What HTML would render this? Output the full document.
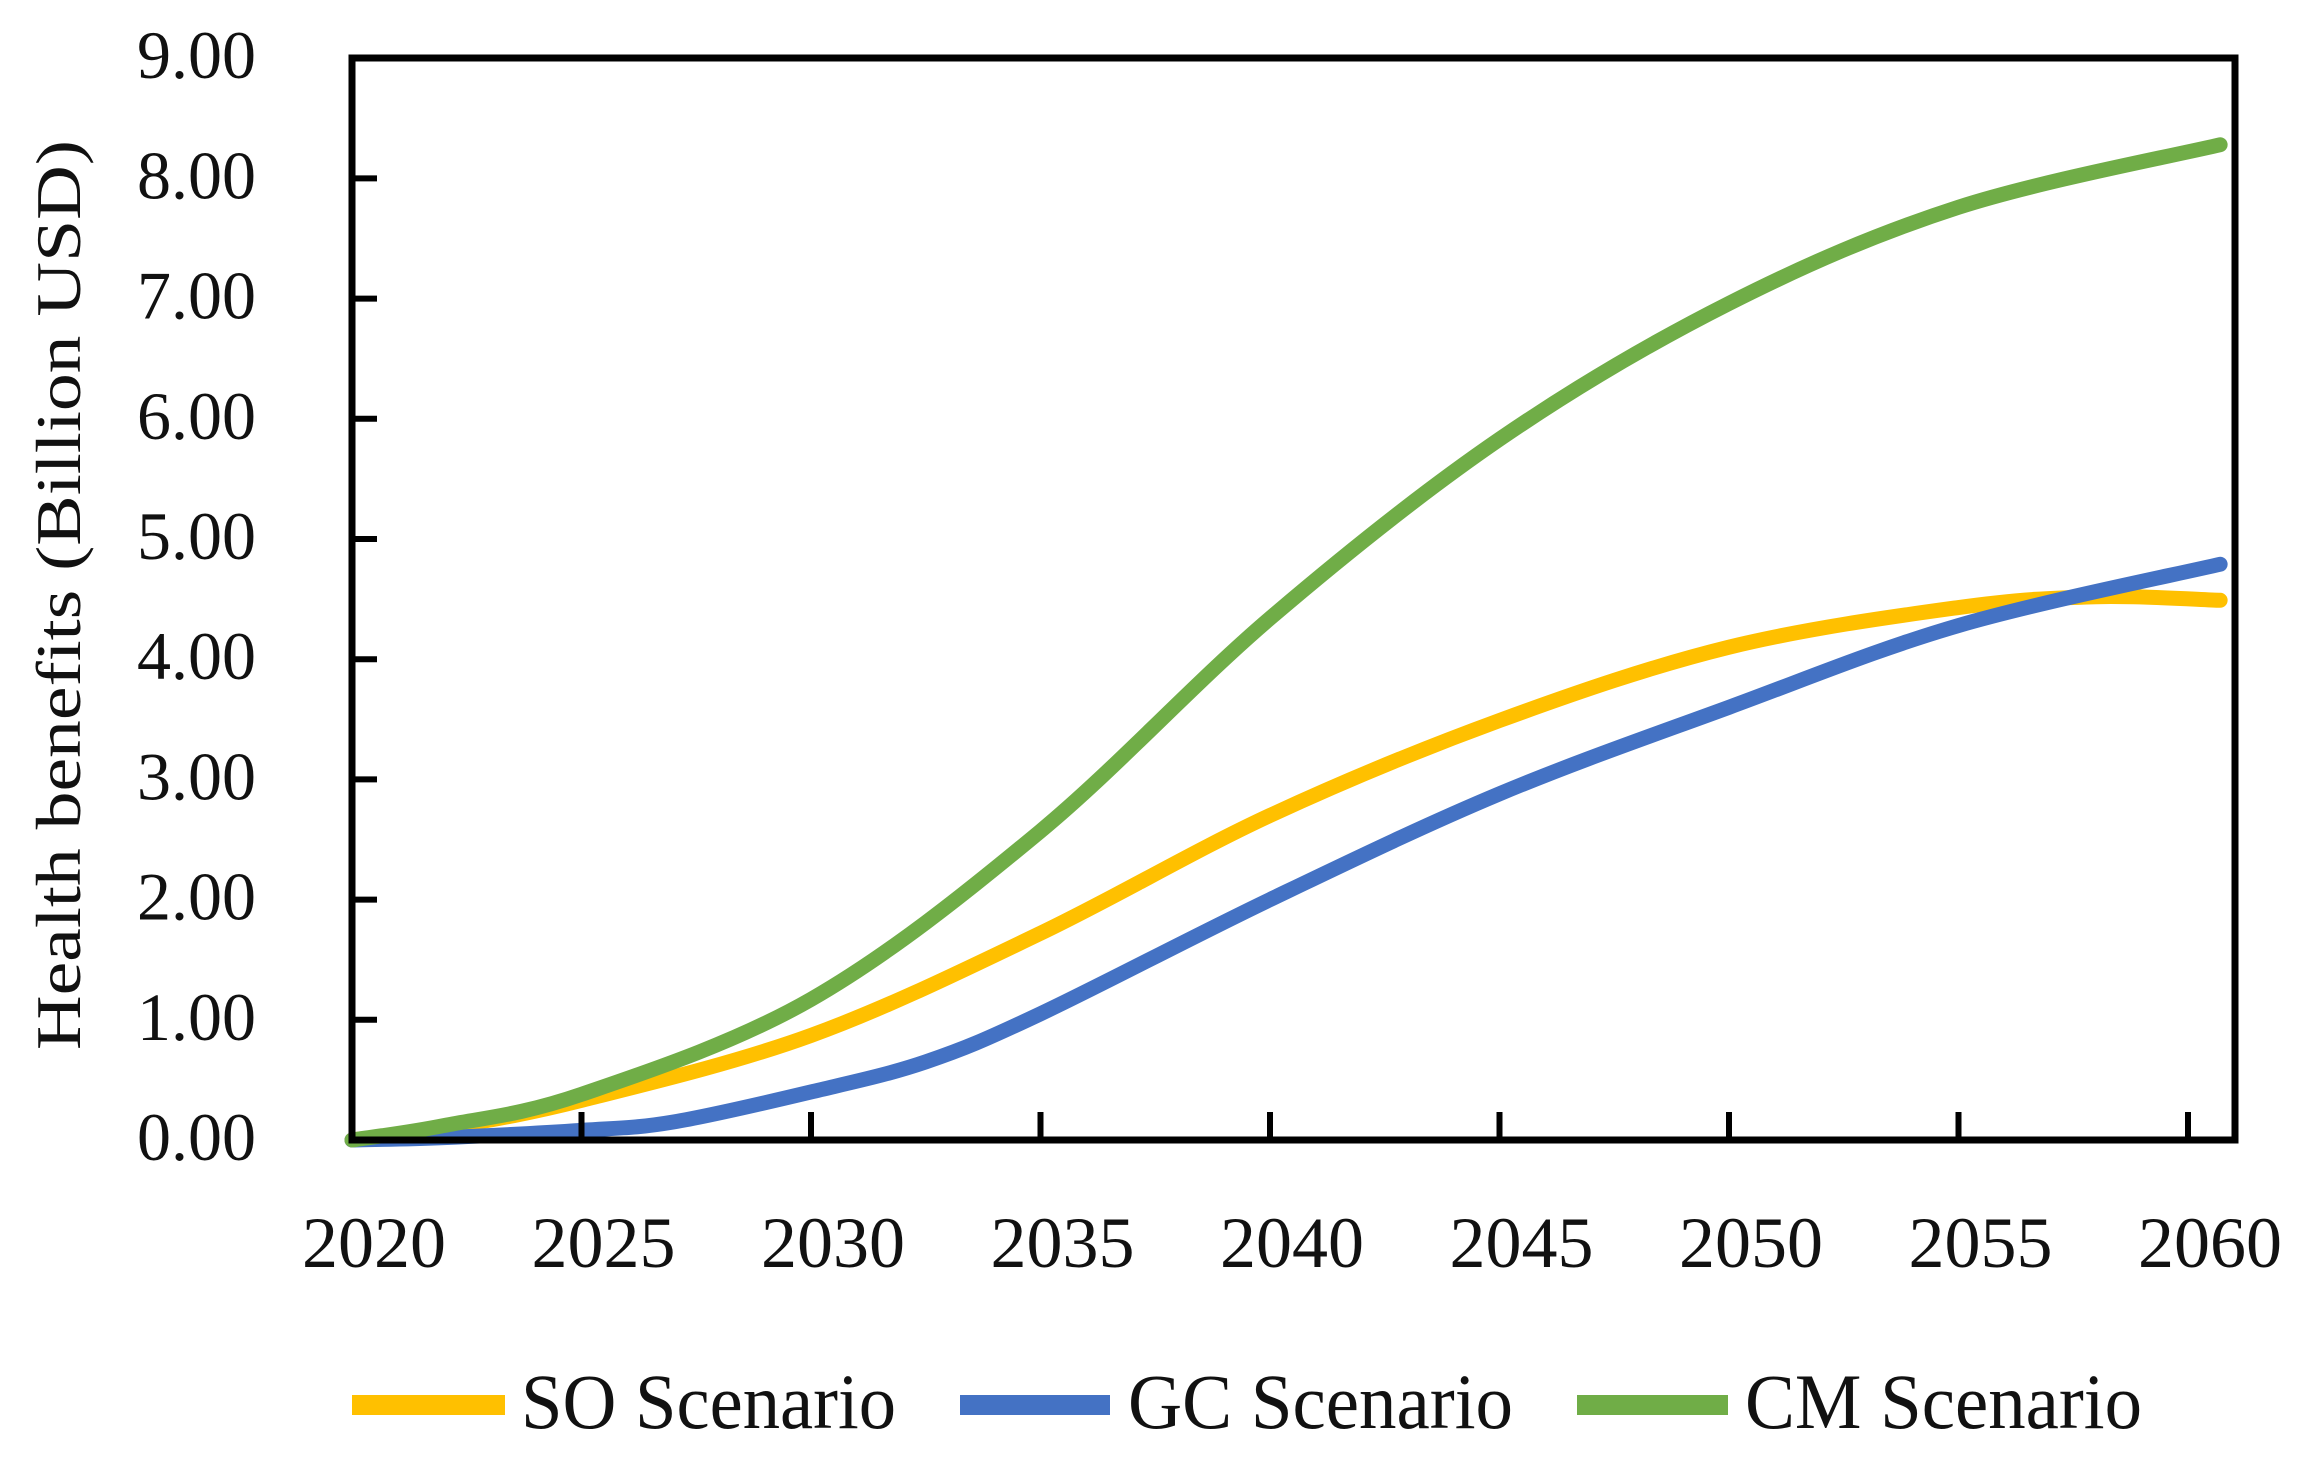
<!DOCTYPE html>
<html><head><meta charset="utf-8"><style>
html,body{margin:0;padding:0;background:#fff;}
svg{display:block;}
text{font-family:"Liberation Serif",serif;fill:#111;}
</style></head><body>
<svg id="c" width="2304" height="1457" viewBox="0 0 2304 1457" xmlns="http://www.w3.org/2000/svg">
<g id="yl" font-size="68" text-anchor="end"></g>
<g id="xl" font-size="72" text-anchor="middle"></g>
<text x="0" y="0" font-size="64" text-anchor="middle" textLength="910" lengthAdjust="spacingAndGlyphs" transform="translate(80,595) rotate(-90)">Health benefits (Billion USD)</text>
<g id="series" fill="none" stroke-width="15" stroke-linecap="round" stroke-linejoin="round"></g>
<rect x="352" y="58" width="1883" height="1082" fill="none" stroke="#000" stroke-width="7"/>
<g id="ticks" stroke="#000" stroke-width="6"></g>
<line x1="352" y1="1405" x2="505" y2="1405" stroke="#FFC000" stroke-width="20"/>
<text x="521" y="1428" font-size="78" textLength="375" lengthAdjust="spacingAndGlyphs">SO Scenario</text>
<line x1="960" y1="1405" x2="1110" y2="1405" stroke="#4472C4" stroke-width="20"/>
<text x="1128" y="1428" font-size="78" textLength="385" lengthAdjust="spacingAndGlyphs">GC Scenario</text>
<line x1="1577" y1="1405" x2="1728" y2="1405" stroke="#70AD47" stroke-width="20"/>
<text x="1745" y="1428" font-size="78" textLength="397" lengthAdjust="spacingAndGlyphs">CM Scenario</text>
</svg>
<script>
var NS="http://www.w3.org/2000/svg";
function X(yr){return 352+(yr-2020)*45.9;}
function Y(v){return 1140-v*120.2;}
function el(t,a,p,txt){var e=document.createElementNS(NS,t);for(var k in a)e.setAttribute(k,a[k]);if(txt!==undefined)e.textContent=txt;document.getElementById(p).appendChild(e);}
for(var i=0;i<=9;i++){el("text",{x:256,y:Y(i)+20},"yl",i.toFixed(2));if(i>0&&i<9)el("line",{x1:352,y1:Y(i),x2:377,y2:Y(i)},"ticks");}
for(var yr=2020;yr<=2060;yr+=5){el("text",{x:X(yr)+22,y:1267},"xl",String(yr));if(yr>2020)el("line",{x1:X(yr),y1:1140,x2:X(yr),y2:1112},"ticks");}
function path(d){var p=d.map(function(q){return [X(q[0]),Y(q[1])];});var s="M"+p[0][0]+","+p[0][1];
for(var i=0;i<p.length-1;i++){var p0=p[i-1]||p[i],p1=p[i],p2=p[i+1],p3=p[i+2]||p2;
var c1=[p1[0]+(p2[0]-p0[0])/6,p1[1]+(p2[1]-p0[1])/6],c2=[p2[0]-(p3[0]-p1[0])/6,p2[1]-(p3[1]-p1[1])/6];
s+=" C"+c1+" "+c2+" "+p2;}return s;}
var so=[[2020,0],[2022,0.1],[2025,0.33],[2030,0.87],[2035,1.72],[2040,2.7],[2045,3.49],[2050,4.1],[2055,4.43],[2058,4.52],[2060.7,4.49]];
var gc=[[2020,0],[2022,0.02],[2025,0.08],[2027,0.15],[2030,0.4],[2032.5,0.65],[2035,1.05],[2040,2.0],[2045,2.88],[2050,3.6],[2055,4.28],[2060.7,4.79]];
var cm=[[2020,0],[2022,0.12],[2025,0.38],[2030,1.17],[2035,2.57],[2040,4.34],[2045,5.83],[2050,6.96],[2055,7.76],[2060.7,8.28]];
el("path",{d:path(so),stroke:"#FFC000"},"series");
el("path",{d:path(gc),stroke:"#4472C4"},"series");
el("path",{d:path(cm),stroke:"#70AD47"},"series");
</script>
</body></html>
